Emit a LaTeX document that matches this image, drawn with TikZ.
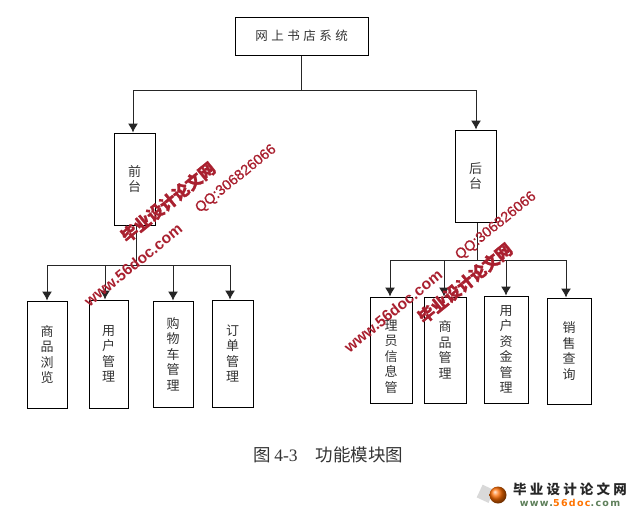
\documentclass[tikz,border=0pt]{standalone}
\usepackage{fontspec}
\setmainfont{Liberation Serif}
\newfontfamily\cjk{Noto Sans CJK SC}
\newfontfamily\wmcjk{Noto Sans CJK SC}[FakeBold=1.6]
\newfontfamily\wmsans{Liberation Sans}
\newfontfamily\wmqqf{Liberation Sans}[FakeBold=0.8]
\newfontfamily\logolat{DejaVu Sans}[LetterSpace=14]
\usetikzlibrary{arrows.meta,shadings}
\definecolor{wm}{HTML}{A9202F}
\definecolor{lgr}{HTML}{5E7F5A}
\tikzset{
  box/.style={draw=black,line width=1pt,inner sep=0pt,align=center,text=black!80,
    font=\cjk\fontsize{13}{15.5}\selectfont},
  conn/.style={draw=black!85,line width=1pt},
  arr/.style={conn,-{Latex[length=9pt,width=10pt]}},
  wmcn/.style={text=wm,rotate=39,inner sep=0pt,font=\wmcjk\bfseries\fontsize{16.5}{17}\selectfont},
  wmen/.style={text=wm,rotate=39,inner sep=0pt,font=\wmsans\bfseries\fontsize{15.5}{15.5}\selectfont},
  wmqq/.style={text=wm,rotate=39,inner sep=0pt,font=\wmqqf\fontsize{14.5}{14.5}\selectfont},
}
\begin{document}
\begin{tikzpicture}[x=1pt,y=-1pt]
\useasboundingbox (0,0) rectangle (640,512);
\node[box,minimum width=133pt,minimum height=38pt] (top) at (301.5,36) {\fontsize{12.5}{14}\selectfont 网\hspace{3.5pt}上\hspace{3.5pt}书\hspace{3.5pt}店\hspace{3.5pt}系\hspace{3.5pt}统};
\node[box,minimum width=41pt,minimum height=92pt] (qt) at (134.5,179) {前\\台};
\node[box,minimum width=41pt,minimum height=92pt] (ht) at (475.5,176) {后\\台};
\node[box,minimum width=40pt,minimum height=107pt] (a1) at (47,354.5) {商\\品\\浏\\览};
\node[box,minimum width=39pt,minimum height=108pt] (a2) at (108.5,354) {用\\户\\管\\理};
\node[box,minimum width=40pt,minimum height=106pt] (a3) at (173,354) {购\\物\\车\\管\\理};
\node[box,minimum width=41pt,minimum height=107pt] (a4) at (232.5,353.5) {订\\单\\管\\理};
\node[box,minimum width=42pt,minimum height=106pt] (b1) at (391,350) {~\\[8.5pt]理\\员\\信\\息\\管};
\node[box,minimum width=42pt,minimum height=106pt] (b2) at (445,350) {商\\品\\管\\理};
\node[box,minimum width=44pt,minimum height=107pt] (b3) at (506,349.5) {用\\户\\资\\金\\管\\理};
\node[box,minimum width=44pt,minimum height=106pt] (b4) at (569,351) {销\\售\\查\\询};
\coordinate (j0) at (301.5,90);
\coordinate (jql) at (133,90);
\coordinate (jhl) at (476,90);
\coordinate (j1) at (136,265);
\coordinate (j2) at (477,260);
\coordinate (c1) at (47,265);
\coordinate (c2) at (105,265);
\coordinate (c3) at (173,265);
\coordinate (c4) at (230,265);
\coordinate (d1) at (390,260);
\coordinate (d2) at (444,260);
\coordinate (d3) at (506,260);
\coordinate (d4) at (566,260);
\draw[conn] (top.south) -- (j0);
\draw[conn] (jql) -- (jhl);
\draw[arr] (jql) -- (jql |- qt.north);
\draw[arr] (jhl) -- (jhl |- ht.north);
\draw[conn] (qt.south -| j1) -- (j1);
\draw[conn] (ht.south -| j2) -- (j2);
\draw[conn] (c1) -- (c4);
\draw[conn] (d1) -- (d4);
\draw[arr] (c1) -- (c1 |- a1.north);
\draw[arr] (c2) -- (c2 |- a2.north);
\draw[arr] (c3) -- (c3 |- a3.north);
\draw[arr] (c4) -- (c4 |- a4.north);
\draw[arr] (d1) -- (d1 |- b1.north);
\draw[arr] (d2) -- (d2 |- b2.north);
\draw[arr] (d3) -- (d3 |- b3.north);
\draw[arr] (d4) -- (d4 |- b4.north);
% watermarks
\node[wmcn] (w1) at (168,202) {毕业设计论文网};
\node[wmen] (w2) at (133,265) {www.56doc.com};
\node[wmqq] (w3) at (236,179) {QQ:306826066};
\node[wmcn] (w4) at (465,283) {毕业设计论文网};
\node[wmen] (w5) at (393,311) {www.56doc.com};
\node[wmqq] (w6) at (496,226) {QQ:306826066};
% caption
\node[inner sep=0pt,text=black!80,font=\fontsize{17.5}{18}\selectfont] (cap) at (328.5,455) {{\cjk 图}\,4-3\hspace{18pt}{\cjk 功能模块图}};
% logo
\fill[black!15,rotate around={-25:(486,494)}] (479,487) rectangle (492,501);
\shade[ball color=orange!85!red] (498,495) circle (8.5pt);
\node[inner sep=0pt,text=black!85,font=\cjk\bfseries\fontsize{13.5}{14}\selectfont] (lg1) at (570,489) {毕\hspace{3.2pt}业\hspace{3.2pt}设\hspace{3.2pt}计\hspace{3.2pt}论\hspace{3.2pt}文\hspace{3.2pt}网};
\node[inner sep=0pt,text=lgr,font=\logolat\bfseries\fontsize{9.5}{10}\selectfont] (lg2) at (570,503) {www.\textcolor{orange!90!red}{56doc}.com};
\end{tikzpicture}
\end{document}
